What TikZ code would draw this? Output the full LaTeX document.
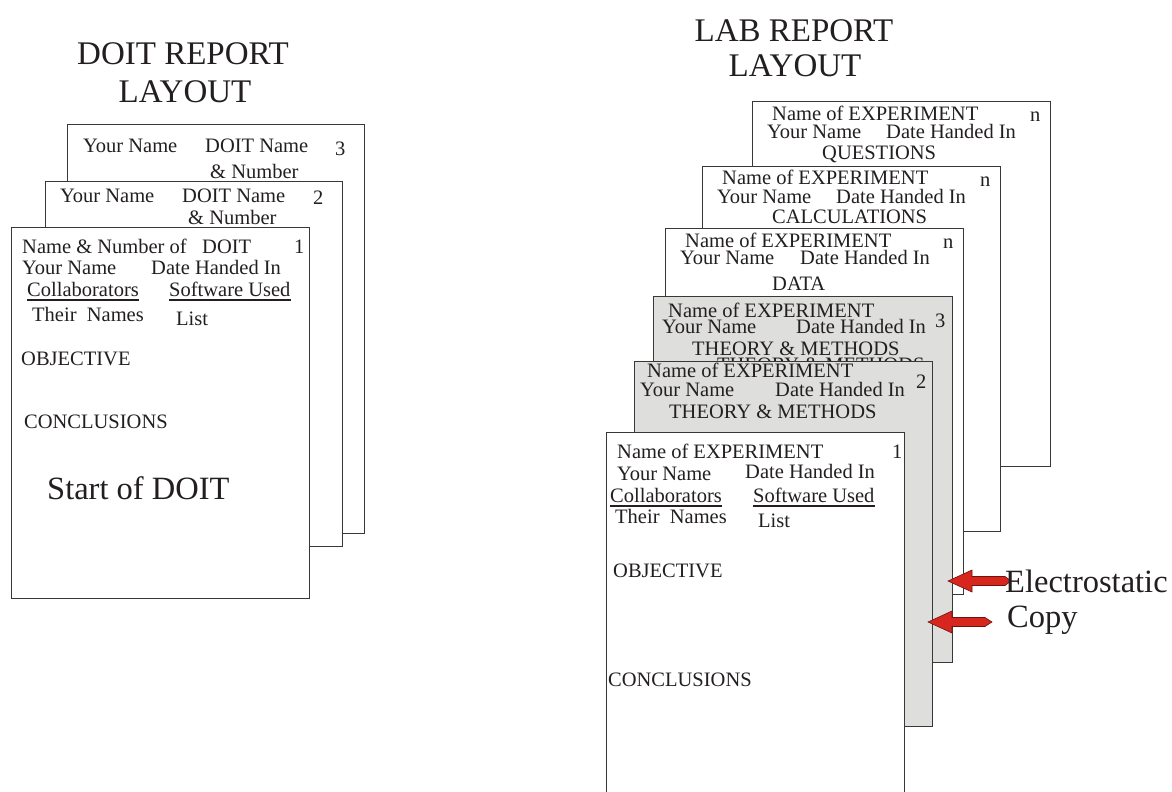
\documentclass[tikz,border=0pt]{standalone}
\usepackage{fontspec}
\setmainfont{Liberation Serif}
\definecolor{pagegray}{RGB}{222,222,221}
\definecolor{ink}{RGB}{35,31,32}
\definecolor{arrowred}{RGB}{214,38,30}
\definecolor{arrowedge}{RGB}{110,20,15}
\tikzset{
  page/.style={draw=black!78, line width=1pt, fill=white},
  gpage/.style={page, fill=pagegray},
  txt/.style={anchor=base west, inner sep=0pt, text=ink, font=\fontsize{20.5}{24}\selectfont},
  ttl/.style={anchor=base, inner sep=0pt, text=ink, font=\fontsize{33}{36}\selectfont},
  big/.style={anchor=base west, inner sep=0pt, text=ink, font=\fontsize{32.5}{36}\selectfont},
  uline/.style={draw=ink, line width=1.2pt},
  blockarrow/.style={fill=arrowred, draw=arrowedge, line width=0.6pt, line join=miter}
}
\begin{document}
\begin{tikzpicture}[x=1pt,y=-1pt]
\useasboundingbox (0,0) rectangle (1172,792);
\clip (0,0) rectangle (1172,792);
\fill[white] (0,0) rectangle (1172,792);

% ---------- titles ----------
\node[ttl] (t1) at (183,65) {DOIT REPORT};
\node[ttl] (t2) at (185,102) {LAYOUT};
\node[ttl] (t3) at (794,42) {LAB REPORT};
\node[ttl] (t4) at (795,77) {LAYOUT};

% ---------- DOIT stack ----------
\draw[page] (67,124) rectangle (364,533);
\node[txt] (d3a) at (83,152) {Your Name};
\node[txt] (d3b) at (205,152) {DOIT Name};
\node[txt] (d3c) at (335,155) {3};
\node[txt] (d3d) at (210,178.5) {\& Number};

\draw[page] (45,181) rectangle (342,546);
\node[txt] (d2a) at (60,202) {Your Name};
\node[txt] (d2b) at (182,202) {DOIT Name};
\node[txt] (d2c) at (313,204) {2};
\node[txt] (d2d) at (188,224) {\& Number};

\draw[page] (11,227) rectangle (309,598);
\node[txt] (d1a) at (22,253) {Name \& Number of};
\node[txt] (d1b) at (202,253) {DOIT};
\node[txt] (d1c) at (294,253) {1};
\node[txt] (d1d) at (22,274) {Your Name};
\node[txt] (d1e) at (151,274) {Date Handed In};
\node[txt] (d1f) at (27,296) {Collaborators};
\node[txt] (d1g) at (169,296) {Software Used};
\draw[uline] ([yshift=-4pt]d1f.base west) -- ([yshift=-4pt]d1f.base east);
\draw[uline] ([yshift=-4pt]d1g.base west) -- ([yshift=-4pt]d1g.base east);
\node[txt] (d1h) at (32,321) {Their\ \ Names};
\node[txt] (d1i) at (176,325) {List};
\node[txt] (d1j) at (21,365) {OBJECTIVE};
\node[txt] (d1k) at (24,428) {CONCLUSIONS};
\node[big] (d1l) at (47,499) {Start of DOIT};

% ---------- LAB stack ----------
\draw[page] (752,101) rectangle (1050,466);
\node[txt] (q1) at (772,120) {Name of EXPERIMENT};
\node[txt] (q2) at (1030,121) {n};
\node[txt] (q3) at (767,138) {Your Name};
\node[txt] (q4) at (886,138) {Date Handed In};
\node[txt] (q5) at (822,159) {QUESTIONS};

\draw[page] (702,166) rectangle (1000,531);
\node[txt] (c1) at (722,184) {Name of EXPERIMENT};
\node[txt] (c2) at (980,186) {n};
\node[txt] (c3) at (717,203) {Your Name};
\node[txt] (c4) at (836,203) {Date Handed In};
\node[txt] (c5) at (772,223) {CALCULATIONS};

\draw[page] (665,228) rectangle (963,594);
\node[txt] (a1) at (685,247) {Name of EXPERIMENT};
\node[txt] (a2) at (943,248) {n};
\node[txt] (a3) at (680,264) {Your Name};
\node[txt] (a4) at (800,264) {Date Handed In};
\node[txt] (a5) at (772,290) {DATA};

\draw[gpage] (653,296) rectangle (952,662);
\node[txt] (g31) at (668,317) {Name of EXPERIMENT};
\node[txt] (g32) at (935,327) {3};
\node[txt] (g33) at (662,333) {Your Name};
\node[txt] (g34) at (796,333) {Date Handed In};
\node[txt] (g35) at (692,355) {THEORY \& METHODS};
\node[txt] (g36) at (717,371.5) {THEORY \& METHODS};

\draw[gpage] (634,361) rectangle (932,726);
\node[txt] (g21) at (647,377) {Name of EXPERIMENT};
\node[txt] (g22) at (916,388) {2};
\node[txt] (g23) at (640,396) {Your Name};
\node[txt] (g24) at (775,396) {Date Handed In};
\node[txt] (g25) at (669,418) {THEORY \& METHODS};

\draw[page] (606,432) rectangle (904,810);
\node[txt] (p1) at (617,458) {Name of EXPERIMENT};
\node[txt] (p2) at (892,458) {1};
\node[txt] (p3) at (617,480) {Your Name};
\node[txt] (p4) at (745,478) {Date Handed In};
\node[txt] (p5) at (610,502) {Collaborators};
\node[txt] (p6) at (753,502) {Software Used};
\draw[uline] ([yshift=-4pt]p5.base west) -- ([yshift=-4pt]p5.base east);
\draw[uline] ([yshift=-4pt]p6.base west) -- ([yshift=-4pt]p6.base east);
\node[txt] (p7) at (615,523) {Their\ \ Names};
\node[txt] (p8) at (758,527) {List};
\node[txt] (p9) at (613,577) {OBJECTIVE};
\node[txt] (p10) at (608,686) {CONCLUSIONS};

% ---------- arrows ----------
\draw[blockarrow] (948,581) -- (972,570) -- (972,576.5) -- (1005,576.5) -- (1011,581)
  -- (1005,585.5) -- (972,585.5) -- (972,592) -- cycle;
\draw[blockarrow] (928,622) -- (952,611) -- (952,617.5) -- (985,617.5) -- (992,622)
  -- (985,626.5) -- (952,626.5) -- (952,633) -- cycle;
\node[big] (el) at (1005,592) {Electrostatic};
\node[big] (cp) at (1007,627) {Copy};
\end{tikzpicture}
\end{document}
